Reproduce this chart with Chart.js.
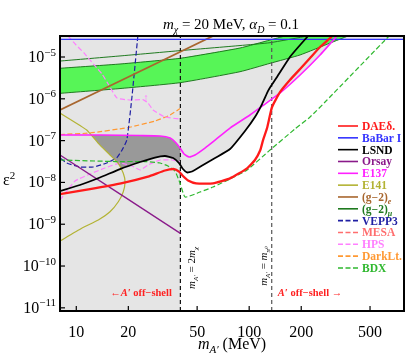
<!DOCTYPE html>
<html>
<head>
<meta charset="utf-8">
<script src="https://cdn.jsdelivr.net/npm/chart.js@4.4.1/dist/chart.umd.min.js"></script>
<style>
  body { margin: 0; background: #fff; }
</style>
</head>
<body>
<canvas id="boundsChart" width="406" height="357"></canvas>
<script>
// m_A' (MeV) against epsilon^2
const xRange = [8.05, 786];
const yRange = [8.4e-12, 3.18e-5];
const xTicks = [10, 20, 50, 100, 200, 500];
const yExponents = [-5, -6, -7, -8, -9, -10, -11];
const twoMChi = 40;
const mPi0 = 135;

const daedalus = [[8.05,5.27e-9],[12.0,6.95e-9],[18.4,9.68e-9],[26.0,1.38e-8],[32.6,1.93e-8],[36.8,2.09e-8],[39.3,1.82e-8],[41.4,1.42e-8],[44.3,1.11e-8],[49.3,9.5e-9],[61.8,9.5e-9],[77.5,1.25e-8],[97.2,2.17e-8],[108,3.44e-8],[116,5.96e-8],[120.3,1.03e-7],[126.9,2.0e-7],[135.6,6.37e-7],[151,1.46e-6],[172,2.82e-6],[197,5.16e-6],[225,9.46e-6],[257,1.73e-5],[294,2.85e-5],[301,3.18e-5]];
const babar = [[8.05,2.65e-5],[786,2.65e-5]];
const lsnd = [[8.05,6.22e-9],[10.5,8.67e-9],[13.7,1.31e-8],[17.9,2.09e-8],[23.4,3.08e-8],[28.5,3.94e-8],[32.6,4.28e-8],[36.3,3.84e-8],[39.3,2.91e-8],[41.4,2.09e-8],[43.7,1.73e-8],[46.7,1.82e-8],[54.1,2.61e-8],[63.5,3.84e-8],[77.5,6.3e-8],[94.6,1.70e-7],[108,3.67e-7],[118.7,7.5e-7],[128.6,1.54e-6],[133.7,2.02e-6],[144.9,3.32e-6],[172,1.0e-5],[197,1.94e-5],[219,3.18e-5]];
const orsay = [[8.05,4.53e-8],[40,6.05e-10]];
const e137 = [[8.05,1.36e-7],[13.7,1.36e-7],[23.4,1.32e-7],[30.5,1.29e-7],[34.9,1.15e-7],[37.8,8.77e-8],[39.8,6.65e-8],[42.0,4.78e-8],[44.9,4.06e-8],[48.6,4.53e-8],[55.5,6.65e-8],[63.5,1.03e-7],[77.5,2.0e-7],[101,4.1e-7],[123.5,7.5e-7],[151,1.38e-6],[197,3.71e-6],[257,1.12e-5],[322,3.18e-5]];
const e141 = [[8.05,4.57e-7],[11.49,1.80e-7],[13.41,8.62e-8],[15.67,4.53e-8],[17.5,2.86e-8],[18.7,1.65e-8],[19.14,1.04e-8],[18.7,6.0e-9],[17.5,3.45e-9],[15.67,1.99e-9],[13.41,1.26e-9],[10.75,7.97e-10],[8.05,3.96e-10]];
const gm2e = [[8.05,5.4e-7],[61.8,3.18e-5]];
const gm2MuLimit = [[8.05,8.0e-6],[17.9,1.06e-5],[39.8,1.42e-5],[88.5,1.88e-5],[132,2.2e-5],[219,3.18e-5]];
const gm2BandUpper = [[8.05,5.37e-6],[17.9,6.8e-6],[39.8,9.3e-6],[88.5,1.64e-5],[132,2.55e-5],[161,3.18e-5]];
const gm2BandLower = [[8.05,1.35e-6],[17.9,1.76e-6],[39.8,2.43e-6],[88.5,4.45e-6],[132,7.06e-6],[197,1.12e-5],[294,2.16e-5],[373,3.18e-5]];
const vepp3 = [[22.7,3.18e-5],[20.9,9.35e-7],[19.6,1.03e-7],[18.4,5.96e-8],[17.1,3.84e-8],[15.0,2.91e-8],[12.55,2.34e-8],[10.5,2.34e-8],[8.8,2.91e-8],[8.05,3.84e-8]];
const mesa = [];
const hpsUpper = [[8.96,3.18e-5],[9.97,1.94e-5],[11.08,1.25e-5],[12.84,6.1e-6],[14.09,3.92e-6],[15.67,1.91e-6],[17.2,1.04e-6],[20.7,9.35e-7],[24.3,9.6e-7],[26.0,7.94e-7],[27.8,5.4e-7],[32.6,3.67e-7],[39.8,3.29e-7]];
const hpsLower = [[8.05,3.8e-9],[9.83,1.08e-8],[12.0,1.59e-8],[14.66,2.21e-8],[17.9,2.91e-8],[21.0,2.47e-8],[23.4,1.98e-8],[26.0,2.61e-8],[30.5,3.44e-8],[35.8,3.44e-8],[39.8,3.08e-8]];
const darkLight = [[8.05,1.40e-7],[12.0,1.52e-7],[20,2.06e-7],[28.5,2.94e-7],[34.9,4.1e-7],[39.8,5.86e-7]];
const bdx = [[8.05,3.44e-8],[16.76,3.16e-8],[24.9,3.16e-8],[30.5,2.91e-8],[33.9,2.47e-8],[37.2,1.87e-8],[39.8,9.68e-9],[42.6,4.48e-9],[52.0,5.89e-9],[61.8,7.76e-9],[77.5,1.21e-8],[97.2,1.98e-8],[132,5.96e-8],[184,1.90e-7],[225,3.67e-7],[282,9.35e-7],[644,3.18e-5]];

// shaded regions
const excluded = [[8.05,8.4e-12],[40,8.4e-12],[40,2.6e-8],[41.4,2.09e-8],[43.7,1.73e-8],[46.7,1.82e-8],[54.1,2.61e-8],[63.5,3.84e-8],[77.5,6.3e-8],[94.6,1.70e-7],[108,3.67e-7],[120,7.6e-7],[151,1.38e-6],[197,3.71e-6],[257,1.12e-5],[310,2.65e-5],[786,2.65e-5],[786,3.18e-5],[8.05,3.18e-5]];
const darkRegion = [[12.2,1.36e-7],[13.41,8.62e-8],[15.67,4.53e-8],[17.5,2.86e-8],[18.1,2.15e-8],[23.4,3.08e-8],[28.5,3.94e-8],[32.6,4.28e-8],[36.3,3.84e-8],[39.3,2.91e-8],[40,2.6e-8],[40,6.5e-8],[37.8,8.77e-8],[34.9,1.15e-7],[30.5,1.29e-7],[23.4,1.32e-7],[13.7,1.36e-7]];

const FONT = "'Liberation Serif', 'DejaVu Serif', serif";
const pts = arr => arr.map(([x, y]) => ({x, y}));

function lineSet(label, data, color, width, order, extra) {
  return Object.assign({
    label, data: pts(data), borderColor: color, backgroundColor: color,
    borderWidth: width, showLine: true, pointRadius: 0, fill: false,
    tension: 0.15, order
  }, extra || {});
}

function areaSet(label, data, color, order) {
  return {
    label, data: pts(data), backgroundColor: color, borderColor: 'rgba(0,0,0,0)',
    borderWidth: 0, showLine: true, pointRadius: 0, fill: 'shape', tension: 0,
    order, legend: false
  };
}

const dash = [5, 2.5];
const datasets = [
  lineSet('DAEδ.', daedalus, '#ff1a1a', 2.3, 20),
  lineSet('BaBar I', babar, '#3434ff', 1.2, 50),
  lineSet('LSND', lsnd, '#000000', 1.8, 30),
  lineSet('Orsay', orsay, '#8a1a8a', 1.3, 50),
  lineSet('E137', e137, '#ff20ff', 1.6, 40),
  lineSet('E141', e141, '#b3b334', 1.2, 50),
  lineSet('(g−2)_e', gm2e, '#a8662e', 1.8, 50),
  lineSet('(g−2)_μ', gm2MuLimit, '#1f7a1f', 1, 80),
  lineSet('VEPP3', vepp3, '#1f1fa3', 1.2, 50, {borderDash: dash}),
  lineSet('MESA', mesa, '#ff6e6e', 1.2, 50, {borderDash: dash}),
  lineSet('HPS', hpsUpper, '#ff80ff', 1.2, 50, {borderDash: dash}),
  lineSet('DarkLt.', darkLight, '#ff9933', 1.2, 50, {borderDash: dash}),
  lineSet('BDX', bdx, '#2fb82f', 1.2, 45, {borderDash: dash}),
  lineSet('HPS low', hpsLower, '#ff80ff', 1.2, 50, {borderDash: dash, legend: false}),
  lineSet('band upper', gm2BandUpper, '#1f7a1f', 1, 80, {legend: false}),
  lineSet('band lower', gm2BandLower, '#1f7a1f', 1, 80, {legend: false}),
  lineSet('2m chi', [[twoMChi, yRange[0]], [twoMChi, yRange[1]]], '#111111', 1.2, 60, {borderDash: [4, 3], tension: 0, legend: false}),
  lineSet('m pi0', [[mPi0, yRange[0]], [mPi0, yRange[1]]], '#555555', 1.2, 60, {borderDash: [4, 3], tension: 0, legend: false}),
  areaSet('band', gm2BandUpper.concat(gm2BandLower.slice().reverse()), '#57f557', 90),
  areaSet('dark', darkRegion, '#999999', 95),
  areaSet('excluded', excluded, '#e5e5e5', 100)
];

// text with italic / sub / sup pieces: flags 'i', 'b', '_', '^'
function drawRich(ctx, parts, x, y, opt) {
  const size = opt.size;
  const fontFor = f => (f.includes('i') ? 'italic ' : '') + ((opt.bold || f.includes('b')) ? 'bold ' : '') +
    ((f.includes('_') || f.includes('^')) ? Math.round(size * 0.68) : size) + 'px ' + FONT;
  let w = 0;
  parts.forEach(([t, f]) => { ctx.font = fontFor(f); w += ctx.measureText(t).width; });
  let cx = opt.align === 'center' ? x - w / 2 : opt.align === 'right' ? x - w : x;
  ctx.textAlign = 'left';
  ctx.textBaseline = 'alphabetic';
  parts.forEach(([t, f]) => {
    ctx.font = fontFor(f);
    const dy = f.includes('_') ? size * 0.28 : f.includes('^') ? -size * 0.4 : 0;
    ctx.fillText(t, cx, y + dy);
    cx += ctx.measureText(t).width;
  });
}

const clipper = {
  id: 'clipper',
  beforeDatasetsDraw(chart) {
    const a = chart.chartArea, ctx = chart.ctx;
    ctx.save();
    ctx.beginPath();
    ctx.rect(a.left, a.top, a.right - a.left, a.bottom - a.top);
    ctx.clip();
  },
  afterDatasetsDraw(chart) { chart.ctx.restore(); }
};

const decor = {
  id: 'decor',
  afterDraw(chart) {
    const ctx = chart.ctx, a = chart.chartArea;
    const xs = chart.scales.x, ys = chart.scales.y;
    ctx.save();

    // tick marks inside the frame
    ctx.strokeStyle = '#000';
    ctx.lineWidth = 1.2;
    xTicks.forEach(v => {
      const px = xs.getPixelForValue(v);
      ctx.beginPath(); ctx.moveTo(px, a.bottom); ctx.lineTo(px, a.bottom - 5); ctx.stroke();
    });
    yExponents.forEach(k => {
      const py = ys.getPixelForValue(Math.pow(10, k));
      ctx.beginPath(); ctx.moveTo(a.left, py); ctx.lineTo(a.left + 5, py); ctx.stroke();
    });

    // frame
    ctx.lineWidth = 2;
    ctx.strokeRect(a.left, a.top, a.right - a.left, a.bottom - a.top);

    // y tick labels
    ctx.fillStyle = '#000';
    yExponents.forEach(k => {
      const py = ys.getPixelForValue(Math.pow(10, k));
      drawRich(ctx, [['10', ''], ['−' + Math.abs(k), '^']], 56, py + 5, {size: 16, align: 'right'});
    });

    // titles
    drawRich(ctx, [['m', 'i'], ['χ', '_i'], [' = 20 MeV, ', ''], ['α', 'i'], ['D', '_i'], [' = 0.1', '']],
      231, 29, {size: 15, align: 'center'});
    drawRich(ctx, [['m', 'i'], ['A′', '_i'], [' (MeV)', '']], 232, 349, {size: 16, align: 'center'});
    drawRich(ctx, [['ε', ''], ['2', '^']], 3, 185, {size: 16, align: 'left'});

    // vertical line labels
    ctx.save();
    ctx.translate(xs.getPixelForValue(twoMChi) + 15, 268);
    ctx.rotate(-Math.PI / 2);
    drawRich(ctx, [['m', 'i'], ['A′', '_i'], [' = 2', ''], ['m', 'i'], ['χ', '_i']], 0, 0, {size: 11, align: 'center'});
    ctx.restore();
    ctx.save();
    ctx.translate(xs.getPixelForValue(mPi0) - 5, 266);
    ctx.rotate(-Math.PI / 2);
    drawRich(ctx, [['m', 'i'], ['A′', '_i'], [' = ', ''], ['m', 'i'], ['π⁰', '_i']], 0, 0, {size: 11, align: 'center'});
    ctx.restore();

    // off-shell labels
    ctx.fillStyle = '#ff2020';
    drawRich(ctx, [['←', ''], ['A′', 'i'], [' off−shell', '']], 141, 296, {size: 10.5, align: 'center', bold: true});
    drawRich(ctx, [['A′', 'i'], [' off−shell →', '']], 310, 296, {size: 10.5, align: 'center', bold: true});

    // HPS arrow
    ctx.fillStyle = '#ff80ff';
    drawRich(ctx, [['↑', '']], xs.getPixelForValue(25.3), 101, {size: 11, align: 'center'});

    // legend
    let ly = 126;
    chart.data.datasets.forEach(ds => {
      if (ds.legend === false) return;
      ctx.strokeStyle = ds.borderColor;
      ctx.lineWidth = 1.6;
      ctx.setLineDash(ds.borderDash ? [5, 2.5] : []);
      ctx.beginPath(); ctx.moveTo(338, ly); ctx.lineTo(358, ly); ctx.stroke();
      ctx.setLineDash([]);
      ctx.fillStyle = ds.borderColor;
      const [main, sub] = ds.label.split('_');
      const parts = [[main, 'b']];
      if (sub) parts.push([sub, 'bi_']);
      drawRich(ctx, parts, 362, ly + 4, {size: 11.5, align: 'left'});
      ly += 11.83;
    });

    ctx.restore();
  }
};

new Chart(document.getElementById('boundsChart'), {
  type: 'scatter',
  data: { datasets },
  options: {
    responsive: false,
    animation: false,
    devicePixelRatio: 1,
    layout: { padding: { top: 36, right: 2, left: 0, bottom: 0 } },
    plugins: {
      legend: { display: false },
      tooltip: { enabled: false },
      title: { display: false }
    },
    scales: {
      x: {
        type: 'logarithmic',
        min: xRange[0],
        max: xRange[1],
        grid: { display: false },
        border: { display: false },
        afterBuildTicks: scale => { scale.ticks = xTicks.map(v => ({ value: v })); },
        afterFit: scale => { scale.height = 46; },
        ticks: {
          autoSkip: false,
          maxRotation: 0,
          padding: 4,
          color: '#000',
          font: { family: FONT, size: 16 },
          callback: v => String(v)
        }
      },
      y: {
        type: 'logarithmic',
        min: yRange[0],
        max: yRange[1],
        grid: { display: false },
        border: { display: false },
        afterFit: scale => { scale.width = 60; },
        ticks: { display: false }
      }
    }
  },
  plugins: [clipper, decor]
});
</script>
</body>
</html>
